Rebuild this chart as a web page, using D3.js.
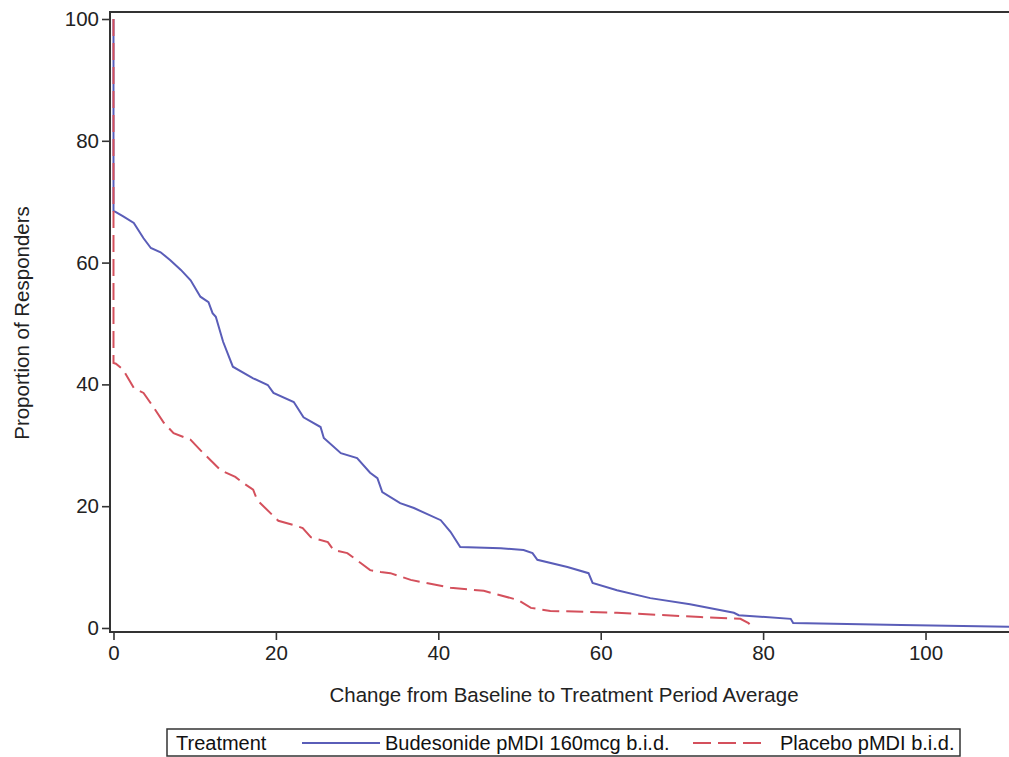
<!DOCTYPE html>
<html>
<head>
<meta charset="utf-8">
<script src="https://cdn.jsdelivr.net/npm/d3@7"></script>
<style>
  html, body { margin: 0; padding: 0; background: #fff; }
  svg { display: block; font-family: "Liberation Sans", Arial, sans-serif; }
</style>
</head>
<body>
<div id="chart"></div>
<script>
// values
const budesonideX = [0, 0, 0.3, 1.2, 2.5, 3.7, 4.6, 5.8, 7, 8.3, 9.5, 10.7, 11.7, 12.2, 12.6, 13.5, 14.7, 17.2, 19, 19.7, 22.2, 23.4, 25.5, 25.9, 28, 30, 31.6, 32.5, 33.1, 35.3, 37, 40.3, 41.5, 42.7, 47.7, 50.5, 51.6, 52.2, 55.9, 58.5, 59, 62, 66.1, 71, 76.4, 77, 83.4, 83.7, 97, 110.3];
const budesonideY = [100, 68.5, 68.3, 67.6, 66.5, 64, 62.4, 61.7, 60.4, 58.8, 57.1, 54.4, 53.5, 51.7, 51.1, 47, 42.9, 41, 39.9, 38.6, 37.1, 34.6, 33, 31.2, 28.7, 27.9, 25.5, 24.6, 22.3, 20.5, 19.7, 17.7, 15.8, 13.3, 13.1, 12.8, 12.3, 11.2, 10, 9, 7.4, 6.2, 4.9, 3.9, 2.5, 2.1, 1.5, 0.8, 0.5, 0.2];

const placeboX = [0, 0, 0.3, 1.2, 2.5, 3.7, 4.9, 6.2, 7.4, 9.5, 10.7, 12.3, 13.2, 15, 16, 17.2, 17.7, 19.3, 20.3, 22.2, 23.3, 24.3, 26.4, 27.1, 28.8, 30.4, 31.6, 32.9, 34.1, 36.6, 41.5, 45.6, 49.8, 51.4, 53.8, 62, 72.3, 77.2, 78.2, 78.8];
const placeboY = [100, 43.5, 43.4, 42.4, 39.4, 38.6, 36.3, 33.7, 32, 30.9, 29.2, 27.1, 25.9, 24.8, 23.8, 22.7, 21, 18.9, 17.6, 16.9, 16.4, 14.9, 14.1, 12.8, 12.3, 10.7, 9.5, 9.2, 9, 7.9, 6.6, 6.1, 4.6, 3.3, 2.8, 2.5, 1.8, 1.5, 0.8, 0];

const xTicks = [0, 20, 40, 60, 80, 100];
const yTicks = [0, 20, 40, 60, 80, 100];
const seriesNames = ["Budesonide pMDI 160mcg b.i.d.", "Placebo pMDI b.i.d."];

const width = 1009, height = 757;
const plot = { left: 110, top: 12, right: 1009, bottom: 632 };
const blue = "#5a5db8", red = "#d4505c", ink = "#222";
const fontSize = "20.5px", legendFont = "20px";

const svg = d3.select("#chart").append("svg")
  .attr("width", width)
  .attr("height", height);

const x = d3.scaleLinear().domain([-0.43, 110.28]).range([plot.left, plot.right]);
const y = d3.scaleLinear().domain([-0.66, 101.15]).range([plot.bottom, plot.top]);

svg.append("clipPath").attr("id", "plotclip")
  .append("rect")
  .attr("x", plot.left).attr("y", plot.top)
  .attr("width", plot.right - plot.left).attr("height", plot.bottom - plot.top);

// axes
const yAxis = svg.append("g")
  .attr("transform", `translate(${plot.left},0)`)
  .call(d3.axisLeft(y).tickValues(yTicks).tickSize(8).tickPadding(3));
const xAxis = svg.append("g")
  .attr("transform", `translate(0,${plot.bottom})`)
  .call(d3.axisBottom(x).tickValues(xTicks).tickSize(8).tickPadding(5));

[xAxis, yAxis].forEach(a => {
  a.select(".domain").remove();
  a.selectAll(".tick line").attr("stroke", "#333").attr("stroke-width", 1.6);
  a.selectAll(".tick text").attr("fill", ink).style("font-size", fontSize);
});

// frame (right edge runs past the picture)
svg.append("path")
  .attr("d", `M${plot.right + 10},${plot.top}H${plot.left}V${plot.bottom}H${plot.right + 10}`)
  .attr("fill", "none")
  .attr("stroke", "#333")
  .attr("stroke-width", 2);

// lines
const lineGen = d3.line().x(d => x(d[0])).y(d => y(d[1]));
const lines = svg.append("g").attr("clip-path", "url(#plotclip)");

lines.append("path")
  .datum(d3.zip(budesonideX, budesonideY))
  .attr("fill", "none")
  .attr("stroke", blue)
  .attr("stroke-width", 2)
  .attr("d", lineGen);

lines.append("path")
  .datum(d3.zip(placeboX, placeboY))
  .attr("fill", "none")
  .attr("stroke", red)
  .attr("stroke-width", 2)
  .attr("stroke-dasharray", "17,7")
  .attr("d", lineGen);

// axis labels
svg.append("text")
  .attr("x", 564).attr("y", 702)
  .attr("text-anchor", "middle")
  .attr("fill", ink)
  .style("font-size", fontSize)
  .text("Change from Baseline to Treatment Period Average");

svg.append("text")
  .attr("transform", "translate(29,323) rotate(-90)")
  .attr("text-anchor", "middle")
  .attr("fill", ink)
  .style("font-size", fontSize)
  .text("Proportion of Responders");

// legend
const lg = svg.append("g");
lg.append("rect")
  .attr("x", 167).attr("y", 729)
  .attr("width", 793).attr("height", 27)
  .attr("fill", "none")
  .attr("stroke", "#333")
  .attr("stroke-width", 1.5);

lg.append("text").attr("x", 176).attr("y", 750)
  .attr("fill", "#111").style("font-size", legendFont).text("Treatment");

lg.append("line")
  .attr("x1", 302).attr("x2", 380).attr("y1", 743).attr("y2", 743)
  .attr("stroke", blue).attr("stroke-width", 2);
lg.append("text").attr("x", 385).attr("y", 750)
  .attr("fill", "#111").style("font-size", legendFont).text(seriesNames[0]);

lg.append("line")
  .attr("x1", 693).attr("x2", 763).attr("y1", 743).attr("y2", 743)
  .attr("stroke", red).attr("stroke-width", 2)
  .attr("stroke-dasharray", "18,7");
lg.append("text").attr("x", 780).attr("y", 750)
  .attr("fill", "#111").style("font-size", legendFont).text(seriesNames[1]);
</script>
</body>
</html>
